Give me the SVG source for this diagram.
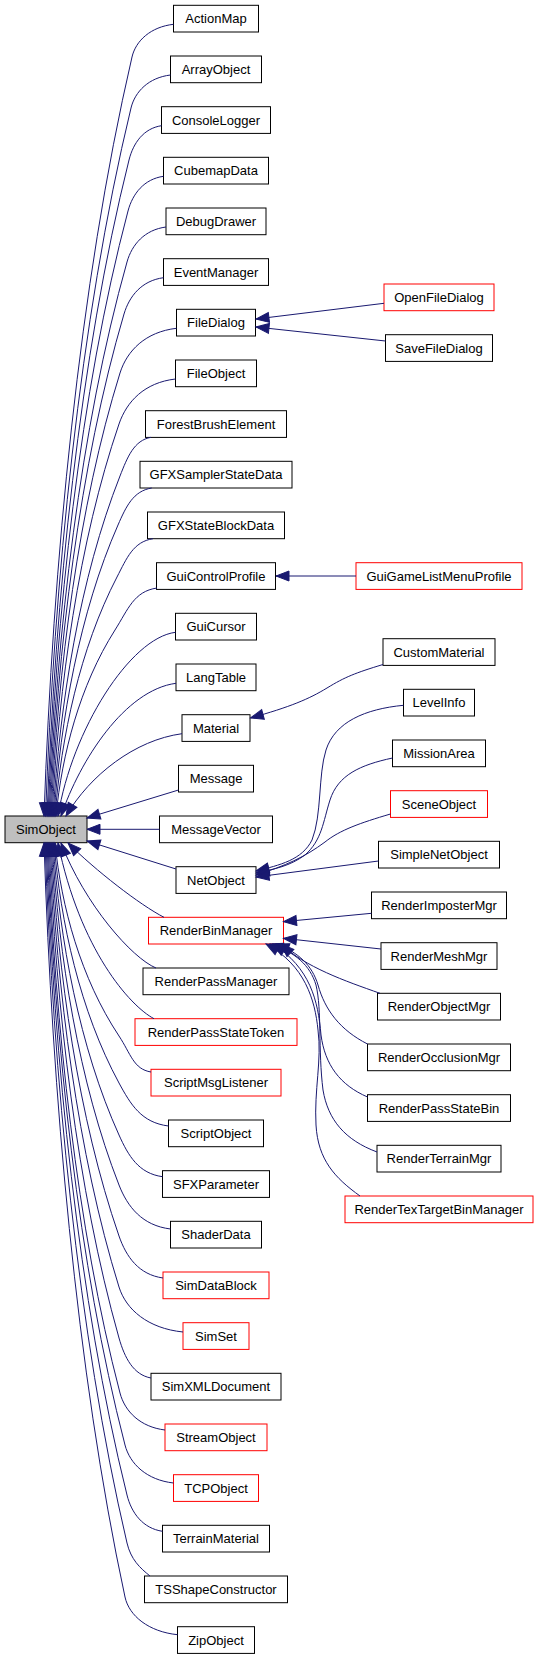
<svg xmlns="http://www.w3.org/2000/svg" width="539" height="1659" viewBox="0 0 539 1659">
<style>
rect{fill:#fff;stroke:#000;stroke-width:1}
.r rect{stroke:#f00}
.g rect{fill:#bfbfbf}
text{font-family:"Liberation Sans",Arial,Helvetica,sans-serif;font-size:13px;text-anchor:middle;fill:#000}
#edges path{fill:none;stroke:#191970;stroke-width:1;marker-end:url(#ah)}
</style>
<defs>
<marker id="ah" markerUnits="userSpaceOnUse" markerWidth="16" markerHeight="12" refX="13" refY="5" orient="auto" overflow="visible">
<path d="M0,0 L13,5 L0,10 z" fill="#191970" stroke="#191970" stroke-width="1"/>
</marker>
</defs>
<rect x="0" y="0" width="539" height="1659" style="fill:#fff;stroke:none"/>
<g id="nodes">
<g id="SimObject" class="g"><rect x="5" y="816" width="82" height="26.7"/><text x="46" y="834">SimObject</text></g>
<g id="ActionMap"><rect x="173.5" y="5.3" width="85" height="26.7"/><text x="216" y="23.3">ActionMap</text></g>
<g id="ArrayObject"><rect x="170.5" y="56" width="91" height="26.7"/><text x="216" y="74">ArrayObject</text></g>
<g id="ConsoleLogger"><rect x="161.5" y="106.7" width="109" height="26.7"/><text x="216" y="124.7">ConsoleLogger</text></g>
<g id="CubemapData"><rect x="163.5" y="157.3" width="105" height="26.7"/><text x="216" y="175.3">CubemapData</text></g>
<g id="DebugDrawer"><rect x="166" y="208" width="100" height="26.7"/><text x="216" y="226">DebugDrawer</text></g>
<g id="EventManager"><rect x="163.5" y="258.7" width="105" height="26.7"/><text x="216" y="276.7">EventManager</text></g>
<g id="FileDialog"><rect x="176.5" y="309.3" width="79" height="26.7"/><text x="216" y="327.3">FileDialog</text></g>
<g id="FileObject"><rect x="175.5" y="360" width="81" height="26.7"/><text x="216" y="378">FileObject</text></g>
<g id="ForestBrushElement"><rect x="145.5" y="410.7" width="141" height="26.7"/><text x="216" y="428.7">ForestBrushElement</text></g>
<g id="GFXSamplerStateData"><rect x="140" y="461.3" width="152" height="26.7"/><text x="216" y="479.3">GFXSamplerStateData</text></g>
<g id="GFXStateBlockData"><rect x="147.5" y="512" width="137" height="26.7"/><text x="216" y="530">GFXStateBlockData</text></g>
<g id="GuiControlProfile"><rect x="156.5" y="562.7" width="119" height="26.7"/><text x="216" y="580.7">GuiControlProfile</text></g>
<g id="GuiCursor"><rect x="175.5" y="613.3" width="81" height="26.7"/><text x="216" y="631.3">GuiCursor</text></g>
<g id="LangTable"><rect x="176" y="664" width="80" height="26.7"/><text x="216" y="682">LangTable</text></g>
<g id="Material"><rect x="182" y="714.7" width="68" height="26.7"/><text x="216" y="732.7">Material</text></g>
<g id="Message"><rect x="178.5" y="765.3" width="75" height="26.7"/><text x="216" y="783.3">Message</text></g>
<g id="MessageVector"><rect x="159.5" y="816" width="113" height="26.7"/><text x="216" y="834">MessageVector</text></g>
<g id="NetObject"><rect x="176" y="866.7" width="80" height="26.7"/><text x="216" y="884.7">NetObject</text></g>
<g id="RenderBinManager" class="r"><rect x="148.5" y="917.3" width="135" height="26.7"/><text x="216" y="935.3">RenderBinManager</text></g>
<g id="RenderPassManager"><rect x="143" y="968" width="146" height="26.7"/><text x="216" y="986">RenderPassManager</text></g>
<g id="RenderPassStateToken" class="r"><rect x="135" y="1018.7" width="162" height="26.7"/><text x="216" y="1036.7">RenderPassStateToken</text></g>
<g id="ScriptMsgListener" class="r"><rect x="151" y="1069.3" width="130" height="26.7"/><text x="216" y="1087.3">ScriptMsgListener</text></g>
<g id="ScriptObject"><rect x="168.5" y="1120" width="95" height="26.7"/><text x="216" y="1138">ScriptObject</text></g>
<g id="SFXParameter"><rect x="162.5" y="1170.7" width="107" height="26.7"/><text x="216" y="1188.7">SFXParameter</text></g>
<g id="ShaderData"><rect x="170.5" y="1221.3" width="91" height="26.7"/><text x="216" y="1239.3">ShaderData</text></g>
<g id="SimDataBlock" class="r"><rect x="163" y="1272" width="106" height="26.7"/><text x="216" y="1290">SimDataBlock</text></g>
<g id="SimSet" class="r"><rect x="183" y="1322.7" width="66" height="26.7"/><text x="216" y="1340.7">SimSet</text></g>
<g id="SimXMLDocument"><rect x="151" y="1373.3" width="130" height="26.7"/><text x="216" y="1391.3">SimXMLDocument</text></g>
<g id="StreamObject" class="r"><rect x="165" y="1424" width="102" height="26.7"/><text x="216" y="1442">StreamObject</text></g>
<g id="TCPObject" class="r"><rect x="173.5" y="1474.7" width="85" height="26.7"/><text x="216" y="1492.7">TCPObject</text></g>
<g id="TerrainMaterial"><rect x="162.5" y="1525.3" width="107" height="26.7"/><text x="216" y="1543.3">TerrainMaterial</text></g>
<g id="TSShapeConstructor"><rect x="144.5" y="1576" width="143" height="26.7"/><text x="216" y="1594">TSShapeConstructor</text></g>
<g id="ZipObject"><rect x="177.5" y="1626.7" width="77" height="26.7"/><text x="216" y="1644.7">ZipObject</text></g>
<g id="OpenFileDialog" class="r"><rect x="384" y="284" width="110" height="26.7"/><text x="439" y="302">OpenFileDialog</text></g>
<g id="SaveFileDialog"><rect x="385.5" y="334.7" width="107" height="26.7"/><text x="439" y="352.7">SaveFileDialog</text></g>
<g id="GuiGameListMenuProfile" class="r"><rect x="356" y="562.7" width="166" height="26.7"/><text x="439" y="580.7">GuiGameListMenuProfile</text></g>
<g id="CustomMaterial"><rect x="383" y="638.7" width="112" height="26.7"/><text x="439" y="656.7">CustomMaterial</text></g>
<g id="LevelInfo"><rect x="403.5" y="689.3" width="71" height="26.7"/><text x="439" y="707.3">LevelInfo</text></g>
<g id="MissionArea"><rect x="392.5" y="740" width="93" height="26.7"/><text x="439" y="758">MissionArea</text></g>
<g id="SceneObject" class="r"><rect x="390.5" y="790.7" width="97" height="26.7"/><text x="439" y="808.7">SceneObject</text></g>
<g id="SimpleNetObject"><rect x="378.5" y="841.3" width="121" height="26.7"/><text x="439" y="859.3">SimpleNetObject</text></g>
<g id="RenderImposterMgr"><rect x="371.5" y="892" width="135" height="26.7"/><text x="439" y="910">RenderImposterMgr</text></g>
<g id="RenderMeshMgr"><rect x="381" y="942.7" width="116" height="26.7"/><text x="439" y="960.7">RenderMeshMgr</text></g>
<g id="RenderObjectMgr"><rect x="377.5" y="993.3" width="123" height="26.7"/><text x="439" y="1011.3">RenderObjectMgr</text></g>
<g id="RenderOcclusionMgr"><rect x="367.5" y="1044" width="143" height="26.7"/><text x="439" y="1062">RenderOcclusionMgr</text></g>
<g id="RenderPassStateBin"><rect x="367.5" y="1094.7" width="143" height="26.7"/><text x="439" y="1112.7">RenderPassStateBin</text></g>
<g id="RenderTerrainMgr"><rect x="377" y="1145.3" width="124" height="26.7"/><text x="439" y="1163.3">RenderTerrainMgr</text></g>
<g id="RenderTexTargetBinManager" class="r"><rect x="345" y="1196" width="188" height="26.7"/><text x="439" y="1214">RenderTexTargetBinManager</text></g>
</g>
<g id="edges">
<path d="M173.5,24.3 C150.7,26.9 135.8,40.7 132,57 C79.2,284.7 52.8,565.5 44,816"/>
<path d="M170.5,75 C148.8,77.6 135,91.5 131,108 C79.7,320.4 54.1,582.4 45.5,816"/>
<path d="M161.5,125.7 C143.6,128.4 133.3,142.9 129,160 C79.8,356.8 55.2,599.5 47,816"/>
<path d="M163.5,176.3 C144,179.1 132.6,193.7 128,211 C80,392.5 56,616.3 48,816"/>
<path d="M166,227 C144.6,229.8 131.9,244.5 127,262 C80.2,428.2 56.8,633.2 49,816"/>
<path d="M163.5,277.7 C141.8,280.6 129.4,295.9 124,314 C79.6,464.6 57.4,650.3 50,816"/>
<path d="M176.5,328.3 C145.4,331.9 127,350.7 120,373 C78.6,505.9 57.9,669.8 51,816"/>
<path d="M175.5,379 C144.4,382.6 126.7,401.5 119,424 C78.8,541.6 58.7,686.6 52,816"/>
<path d="M151,437.3 C134,440.4 127.6,456.7 120,476 C79.8,578 59.7,703.8 53,816"/>
<path d="M151.7,488 C133.2,491 126.1,506.5 118,525 C79.6,612.3 60.4,720 54,816"/>
<path d="M153,538.7 C133.2,541.8 126.9,557.9 117,577 C79.8,648.7 61.2,737.1 55,816"/>
<path d="M157,588 C133.9,591.4 128.3,609 115,630 C79.6,685.8 61.9,754.6 56,816"/>
<path d="M175.5,632.3 C130,638 72,730 58,816"/>
<path d="M176,683.3 C125,690 80,760 61,816"/>
<path d="M182,733.7 C135,740 90,775 66,816"/>
<path d="M178.5,790 L87,818"/>
<path d="M159.5,829.3 L87,829.3"/>
<path d="M176,869 L87,841"/>
<path d="M164,917.3 C140,905 95,870 68,843"/>
<path d="M156,968 C132,958 85,905 61,843"/>
<path d="M154,1018.7 C130,1006 80,950 58,843"/>
<path d="M151,1072 C133.4,1069.1 130.9,1054 119,1036 C80.6,978.1 61.4,906.7 55,843"/>
<path d="M168.5,1126 C141.3,1122.6 130.7,1104.5 119,1083 C80,1011 60.5,922.2 54,843"/>
<path d="M162.5,1176.7 C138.6,1173.4 128.4,1155.9 119,1135 C79.4,1047.4 59.6,939.4 53,843"/>
<path d="M170.5,1229 C142.2,1225.5 127.6,1207 119,1185 C78.8,1082.4 58.7,955.9 52,843"/>
<path d="M163,1278 C138.8,1274.6 126.3,1257 119,1236 C78.2,1118.1 57.8,972.7 51,843"/>
<path d="M183,1332 C147.8,1328.4 126,1309.5 119,1287 C77.6,1153.8 56.9,989.5 50,843"/>
<path d="M151,1378 C133.4,1374.8 124.7,1358 119,1338 C77,1189.5 56,1006.4 49,843"/>
<path d="M165,1430 C140.3,1427 124.8,1411.5 120,1393 C76.8,1228 55.2,1024.5 48,843"/>
<path d="M173.5,1483 C146.8,1480 129.9,1464 125,1445 C78.2,1264.4 54.8,1041.7 47,843"/>
<path d="M162.5,1531.3 C143,1528.4 131.5,1513.2 127,1495 C78.4,1299.4 54.1,1058.2 46,843"/>
<path d="M150,1576 C140,1568 130.9,1559.5 127,1543 C77.8,1333 53.2,1074 45,843"/>
<path d="M177.5,1634.7 C148.6,1631.7 129.1,1615.9 125,1597 C76.4,1371 52.1,1091.8 44,843"/>
<path d="M384,303.3 L256,319"/>
<path d="M385.5,341 L256,327"/>
<path d="M356,576 L276,576"/>
<path d="M383,664.5 C355,673 345,677 327,688 S290,707 250.5,718"/>
<path d="M403.5,705.3 C365,709 335,722 326,750 C318,775 322,815 312,840 C302,860 280,865 256,871"/>
<path d="M392.5,758 C360,765 338,775 330,800 C323,822 322,840 305,855 C290,866 275,869 256,873"/>
<path d="M390.5,814 C360,823 340,830 325,842 C305,857 285,866 256,875"/>
<path d="M378.5,861 L256,877"/>
<path d="M371.5,913.3 L283.5,921.7"/>
<path d="M381,949 L283.5,938.3"/>
<path d="M380,993.3 C345,981 305,967 281,944"/>
<path d="M367.5,1044 C340,1030 325,1010 318,985 C312,965 298,952 276,944"/>
<path d="M367.5,1097 C340,1085 325,1065 321,1035 C318,1000 310,968 273,944"/>
<path d="M377,1152 C345,1140 328,1120 323,1090 C318,1050 322,1010 316,985 C310,965 295,952 270,944"/>
<path d="M360,1196 C335,1178 318,1160 316,1125 C314,1090 322,1060 318,1030 C315,1000 305,965 266,944"/>
</g>
</svg>
